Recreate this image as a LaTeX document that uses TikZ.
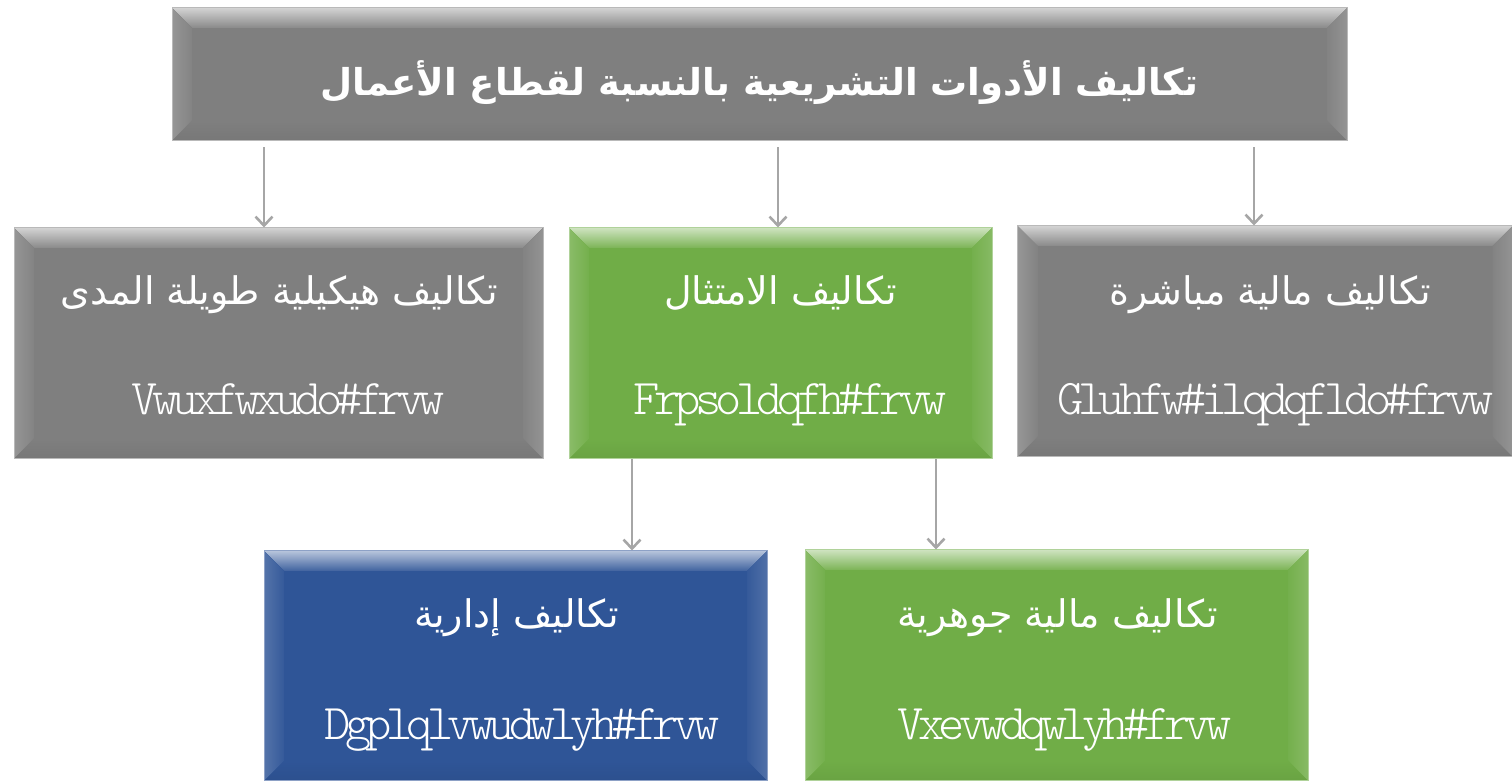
\documentclass[tikz,border=0pt]{standalone}
\usepackage{fontspec}
\usetikzlibrary{arrows.meta,calc}
\TeXXeTstate=1
\newfontfamily\arabicfont[Script=Arabic]{DejaVu Sans}
\newfontfamily\codefont[LetterSpace=-11.5]{lmmonolt10-regular.otf}
\definecolor{boxgray}{HTML}{7F7F7F}
\definecolor{boxgreen}{HTML}{70AD47}
\definecolor{boxblue}{HTML}{2F5597}
\definecolor{arrgray}{HTML}{A6A6A6}
\def\bvw{20}
\tikzset{
  bevelbox/.style={rectangle, inner sep=0pt, fill=#1, draw=#1!55!white, line width=1pt,
    path picture={
      \path (path picture bounding box.north west) coordinate (pnw)
            (path picture bounding box.south east) coordinate (pse);
      \path (pnw |- pse) coordinate (psw) (pse |- pnw) coordinate (pne);
      \fill[top color=#1!35!white, bottom color=#1!92!white]
        (pnw) -- (pne) -- ($(pne)+(-\bvw,-\bvw)$) -- ($(pnw)+(\bvw,-\bvw)$) -- cycle;
      \fill[left color=#1!82!white, right color=#1!97!white]
        (pnw) -- ($(pnw)+(\bvw,-\bvw)$) -- ($(psw)+(\bvw,\bvw)$) -- (psw) -- cycle;
      \fill[right color=#1!84!white, left color=#1!97!white]
        (pne) -- ($(pne)+(-\bvw,-\bvw)$) -- ($(pse)+(-\bvw,\bvw)$) -- (pse) -- cycle;
      \fill[top color=#1, bottom color=#1!94!black]
        (psw) -- ($(psw)+(\bvw,\bvw)$) -- ($(pse)+(-\bvw,\bvw)$) -- (pse) -- cycle;
    }},
  artext/.style={anchor=base, text=white, inner sep=0pt, font=\arabicfont\fontsize{38}{44}\selectfont},
  titletext/.style={anchor=base, text=white, inner sep=0pt, font=\arabicfont\bfseries\fontsize{37}{44}\selectfont},
  codetext/.style={anchor=base, text=white, inner sep=0pt, font=\codefont\fontsize{50}{56}\selectfont},
  arr/.style={draw=arrgray, line width=2.6pt, -{Straight Barb[length=9pt,width=17pt]}}
}
\begin{document}
\begin{tikzpicture}[x=1pt,y=1pt]
\useasboundingbox (0,0) rectangle (1512,781);
% boxes
\node[bevelbox=boxgray, minimum width=1175pt, minimum height=133pt] (top) at (759.5,706.5) {};
\node[bevelbox=boxgray, minimum width=529pt, minimum height=231pt] (left) at (278.5,437.5) {};
\node[bevelbox=boxgreen, minimum width=423pt, minimum height=231pt] (mid) at (780.5,437.5) {};
\node[bevelbox=boxgray, minimum width=495pt, minimum height=231pt] (right) at (1265,439.5) {};
\node[bevelbox=boxblue, minimum width=503pt, minimum height=230pt] (bl) at (515.5,115) {};
\node[bevelbox=boxgreen, minimum width=503pt, minimum height=231pt] (br) at (1056.5,115.5) {};
% texts
\node[titletext] (ttitle) at ($(top.center)+(0,-21)$) {\beginR تكاليف الأدوات التشريعية بالنسبة لقطاع الأعمال\endR};
\node[artext] (tleft) at ($(left.center)+(1,38.5)$) {\beginR تكاليف هيكيلية طويلة المدى\endR};
\node[codetext] (cleft) at ($(left.center)+(10,-71.5)$) {Vwuxfwxudo\#frvw};
\node[artext] (tmid) at ($(mid.center)+(0,38.5)$) {\beginR تكاليف الامتثال\endR};
\node[codetext] (cmid) at ($(mid.center)+(10,-71.5)$) {Frpsoldqfh\#frvw};
\node[artext] (tright) at ($(right.center)+(5,36.5)$) {\beginR تكاليف مالية مباشرة\endR};
\node[codetext] (cright) at ($(right.center)+(11,-73.5)$) {Gluhfw\#ilqdqfldo\#frvw};
\node[artext] (tbl) at ($(bl.center)+(1,38)$) {\beginR تكاليف إدارية\endR};
\node[codetext] (cbl) at ($(bl.center)+(7,-74)$) {Dgplqlvwudwlyh\#frvw};
\node[artext] (tbr) at ($(br.center)+(1,38)$) {\beginR تكاليف مالية جوهرية\endR};
\node[codetext] (cbr) at ($(br.center)+(8,-74)$) {Vxevwdqwlyh\#frvw};
% arrow columns
\coordinate (ax1) at (264,0);
\coordinate (ax2) at (778,0);
\coordinate (ax3) at (1254,0);
\coordinate (ax4) at (632,0);
\coordinate (ax5) at (936,0);
\draw[arr, shorten <=6pt] (top.south -| ax1) -- (left.north -| ax1);
\draw[arr, shorten <=6pt] (top.south -| ax2) -- (mid.north -| ax2);
\draw[arr, shorten <=6pt] (top.south -| ax3) -- (right.north -| ax3);
\draw[arr] (mid.south -| ax4) -- (bl.north -| ax4);
\draw[arr] (mid.south -| ax5) -- (br.north -| ax5);
\end{tikzpicture}
\end{document}
